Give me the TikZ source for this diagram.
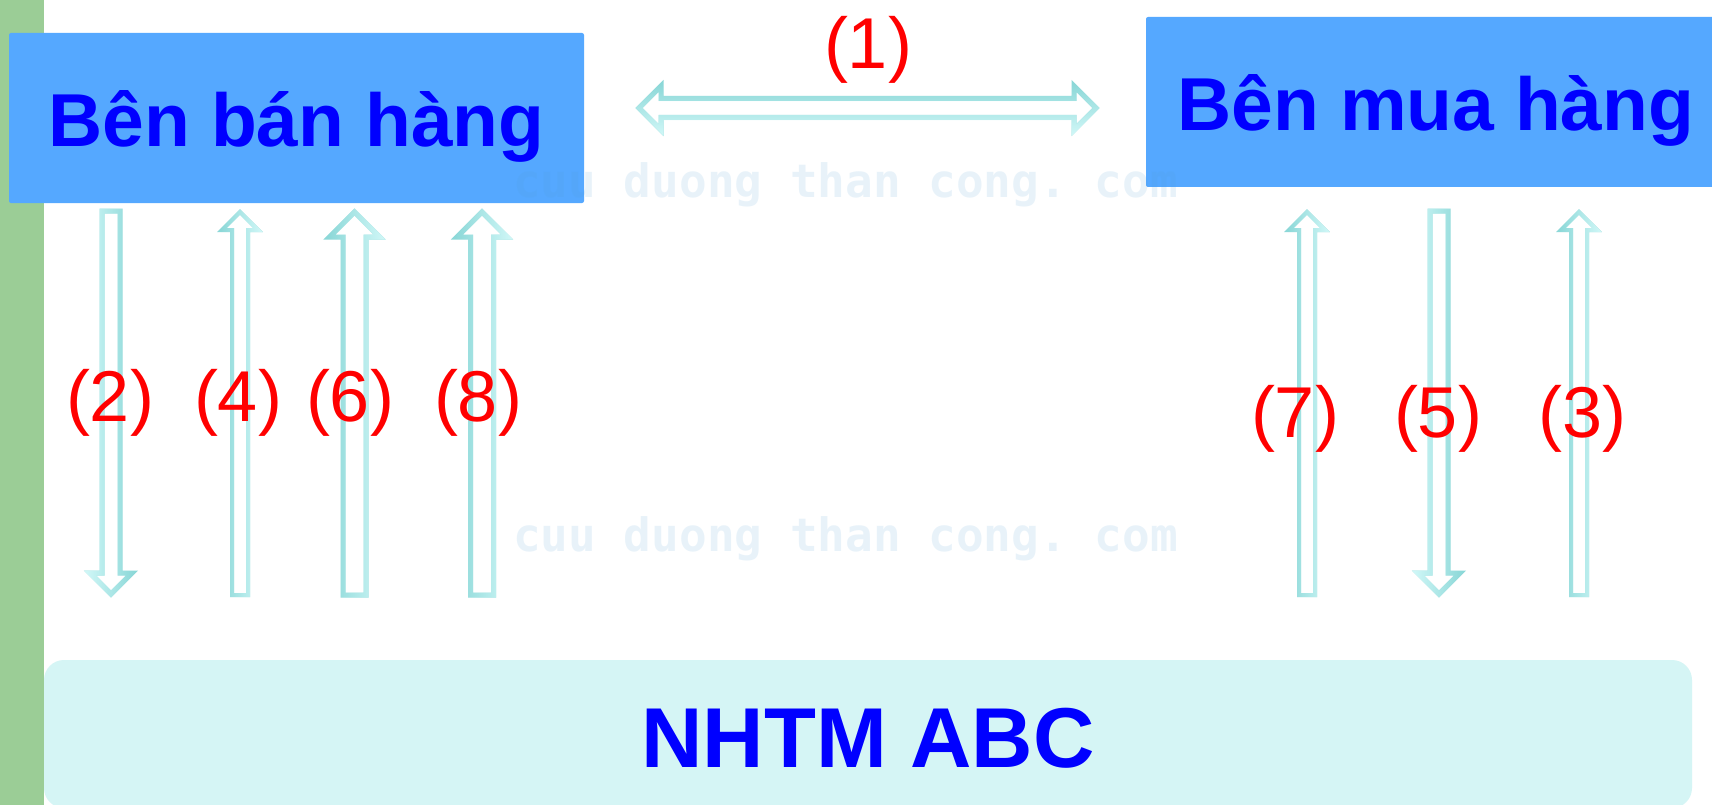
\documentclass[tikz,border=0pt]{standalone}
\usepackage{fontspec}
\setmainfont{Liberation Sans}
\newfontfamily\wmfont{DejaVu Sans Mono}
\usetikzlibrary{calc,fadings}

\definecolor{barGreen}{RGB}{155,205,150}
\definecolor{boxBlue}{RGB}{85,168,255}
\definecolor{titleBlue}{RGB}{0,0,255}
\definecolor{bankCyan}{RGB}{213,245,245}
\definecolor{arrowDark}{RGB}{140,216,216}
\definecolor{arrowLight}{RGB}{205,246,246}
\definecolor{stepRed}{RGB}{255,0,0}
\definecolor{markBlue}{RGB}{80,160,215}

\tikzset{
  party/.style={fill=boxBlue, rounded corners=2pt, inner sep=0pt, text=titleBlue,
    font=\fontsize{75}{90}\selectfont\bfseries, text height=58pt, text depth=0pt},
  bank/.style={fill=bankCyan, rounded corners=20pt, inner sep=0pt, text=titleBlue,
    font=\fontsize{85}{100}\selectfont\bfseries, text height=66pt, text depth=0pt},
  num/.style={text=stepRed, font=\fontsize{72}{86}\selectfont, anchor=base, inner sep=0pt},
  watermark/.style={text=markBlue, text opacity=0.13, anchor=base west, inner sep=0pt,
    font=\wmfont\fontsize{46}{54}\selectfont\bfseries\frenchspacing},
  hollow/.style={draw=arrowDark, line width=#1, line join=miter},
}

% hollow block arrow: #1 tail, #2 tip, #3 shaft half-width, #4 head size,
% #5 stroke width, #6 side where the light tint fades out
\newcommand\blockarrow[6]{%
  \coordinate (#2-base) at ($(#2)!#4!(#1)$);
  \draw[hollow=#5, postaction={draw=arrowLight, path fading=#6}]
    ($(#1)!#3!90:(#2)$) -- ($(#2-base)!#3!90:(#2)$) -- ($(#2-base)!#4!90:(#2)$)
    -- (#2) -- ($(#2-base)!#4!-90:(#2)$) -- ($(#2-base)!#3!-90:(#2)$)
    -- ($(#1)!#3!-90:(#2)$) -- cycle;
}

% hollow double-headed block arrow between tips #1 and #2
\newcommand\twowayarrow[5]{%
  \coordinate (#1-base) at ($(#1)!#4!(#2)$);
  \coordinate (#2-base) at ($(#2)!#4!(#1)$);
  \draw[hollow=#5, postaction={draw=arrowLight, path fading=north}]
    (#1) -- ($(#1-base)!#4!90:(#2)$) -- ($(#1-base)!#3!90:(#2)$)
    -- ($(#2-base)!#3!90:(#2)$) -- ($(#2-base)!#4!90:(#2)$) -- (#2)
    -- ($(#2-base)!#4!-90:(#2)$) -- ($(#2-base)!#3!-90:(#2)$)
    -- ($(#1-base)!#3!-90:(#2)$) -- ($(#1-base)!#4!-90:(#2)$) -- cycle;
}

\begin{document}
\begin{tikzpicture}[x=1pt, y=-1pt]
  \clip (0,0) rectangle (1712,805);
  \fill[white] (0,0) rectangle (1712,805);
  \fill[barGreen] (0,0) rectangle (44,805);

  % parties
  \node[party, minimum width=575pt, minimum height=170pt] (seller) at (296.5,118) {Bên bán hàng};
  \node[party, minimum width=580pt, minimum height=170pt] (buyer) at (1436,102) {Bên mua hàng};
  \node[bank, minimum width=1648pt, minimum height=148pt] (bank) at (868,734) {NHTM ABC};

  % arrow end points
  \coordinate (e1a) at (639,108);    \coordinate (e1b) at (1096,108);
  \coordinate (s2) at (111,211);     \coordinate (k2) at (111,594);
  \coordinate (k4) at (240,595);     \coordinate (s4) at (240,212);
  \coordinate (k6) at (354.5,595);   \coordinate (s6) at (354.5,212);
  \coordinate (k8) at (482,595);     \coordinate (s8) at (482,212);
  \coordinate (k7) at (1307,595);    \coordinate (b7) at (1307,212);
  \coordinate (b5) at (1439,211);    \coordinate (k5) at (1439,594);
  \coordinate (k3) at (1579,595);    \coordinate (b3) at (1579,212);

  % flows
  \twowayarrow{e1a}{e1b}{9.5pt}{22pt}{5pt}
  \blockarrow{s2}{k2}{9pt}{21pt}{5pt}{east}
  \blockarrow{k4}{s4}{8pt}{18pt}{4pt}{west}
  \blockarrow{k6}{s6}{11.5pt}{25pt}{5pt}{west}
  \blockarrow{k8}{s8}{11.5pt}{25pt}{5pt}{west}
  \blockarrow{k7}{b7}{8pt}{18pt}{4pt}{west}
  \blockarrow{b5}{k5}{9pt}{21pt}{5pt}{east}
  \blockarrow{k3}{b3}{8pt}{18pt}{4pt}{west}

  % step numbers
  \node[num] (n1) at (868,69) {(1)};
  \node[num] (n2) at (110,421) {(2)};
  \node[num] (n4) at (238,421) {(4)};
  \node[num] (n6) at (350,421) {(6)};
  \node[num] (n8) at (478,421) {(8)};
  \node[num] (n7) at (1295,437) {(7)};
  \node[num] (n5) at (1438,437) {(5)};
  \node[num] (n3) at (1582,437) {(3)};

  % faint watermark lines
  \node[watermark] (wm1) at (513,197) {cuu duong than cong. com};
  \node[watermark] (wm2) at (513,551) {cuu duong than cong. com};
\end{tikzpicture}
\end{document}
